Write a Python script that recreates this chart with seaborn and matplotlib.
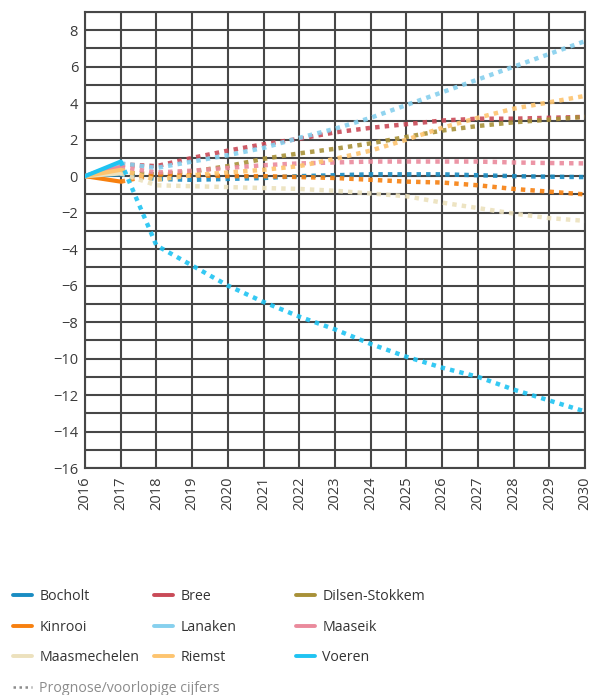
import pandas as pd
import matplotlib.pyplot as plt
import seaborn as sns
from matplotlib.lines import Line2D
from matplotlib.ticker import MultipleLocator

# Bevolkingsevolutie t.o.v. 2016 (%), 2016-2017 waargenomen, daarna prognose
years = list(range(2016, 2031))

bocholt = [0, 0.1, -0.15, -0.2, -0.15, -0.1, 0.0, 0.05, 0.1, 0.1, 0.1, 0.05, 0.0, -0.03, -0.05]
bree = [0, 0.65, 0.55, 1.0, 1.4, 1.75, 2.05, 2.4, 2.65, 2.85, 3.05, 3.15, 3.15, 3.2, 3.25]
dilsen = [0, 0.2, 0.1, 0.25, 0.55, 0.95, 1.25, 1.5, 1.8, 2.15, 2.5, 2.75, 2.95, 3.1, 3.25]
kinrooi = [0, -0.3, 0.1, 0.05, 0.0, 0.0, -0.05, -0.1, -0.2, -0.3, -0.35, -0.5, -0.7, -0.85, -1.0]
lanaken = [0, 0.7, 0.45, 0.8, 1.15, 1.55, 2.1, 2.6, 3.2, 3.9, 4.6, 5.3, 6.0, 6.7, 7.4]
maaseik = [0, 0.5, 0.2, 0.3, 0.45, 0.6, 0.7, 0.75, 0.8, 0.8, 0.8, 0.8, 0.75, 0.72, 0.7]
maasmechelen = [0, 0.15, -0.5, -0.55, -0.6, -0.65, -0.7, -0.8, -0.95, -1.1, -1.45, -1.75, -2.05, -2.3, -2.45]
riemst = [0, 0.35, -0.2, 0.05, 0.2, 0.35, 0.55, 0.95, 1.4, 2.0, 2.65, 3.2, 3.7, 4.05, 4.4]
voeren = [0, 0.8, -3.8, -4.9, -6.0, -6.9, -7.7, -8.4, -9.2, -9.9, -10.5, -11.0, -11.7, -12.3, -12.9]

names = ['Bocholt', 'Bree', 'Dilsen-Stokkem', 'Kinrooi', 'Lanaken', 'Maaseik',
         'Maasmechelen', 'Riemst', 'Voeren']
series = [bocholt, bree, dilsen, kinrooi, lanaken, maaseik, maasmechelen, riemst, voeren]
colors = ['#1a8cc2', '#c94a57', '#a89138', '#f7800f', '#86d0ee', '#ea8a9c',
          '#ece1bd', '#fdc46f', '#1fc3f2']
last_actual = 2017

sns.set_style('white')
plt.rcParams['font.family'] = ['Open Sans', 'DejaVu Sans']

fig = plt.figure(figsize=(5.91, 6.95), dpi=100)
ax = fig.add_axes([85 / 591, 1 - 468 / 695, 500 / 591, 456 / 695])

for name, vals, col in zip(names, series, colors):
    df = pd.DataFrame({'jaar': years, 'waarde': vals})
    actual = df[df['jaar'] <= last_actual]
    prog = df[df['jaar'] >= last_actual]
    sns.lineplot(data=actual, x='jaar', y='waarde', ax=ax, color=col, lw=3,
                 solid_capstyle='round', zorder=3)
    sns.lineplot(data=prog, x='jaar', y='waarde', ax=ax, color=col, lw=3.2,
                 linestyle=(0, (1, 1.15)), dash_capstyle='butt', alpha=0.9, zorder=3)

ax.set_xlim(2016, 2030)
ax.set_ylim(-16, 9)
ax.xaxis.set_major_locator(MultipleLocator(1))
ax.yaxis.set_major_locator(MultipleLocator(2))
ax.yaxis.set_minor_locator(MultipleLocator(1))
ax.grid(True, which='both', color='#474747', lw=1.5, zorder=1)
ax.set_axisbelow(True)
for s in ax.spines.values():
    s.set_color('#474747')
    s.set_linewidth(1.5)
ax.set_xlabel('')
ax.set_ylabel('')
ax.tick_params(axis='x', rotation=90, labelsize=10.5, colors='#3a3a3a', length=0, pad=6)
ax.tick_params(axis='y', labelsize=10.5, colors='#3a3a3a', length=3, pad=2)
ax.tick_params(axis='y', which='minor', length=0)

# legende in drie kolommen
handles = [Line2D([0], [0], color=c, lw=2.8) for c in colors]
col_x = [13 / 591, 154 / 591, 296 / 591]
for i in range(3):
    idx = [i, i + 3, i + 6]
    leg = fig.legend([handles[j] for j in idx], [names[j] for j in idx],
                     loc='upper left', bbox_to_anchor=(col_x[i], 1 - 589 / 695),
                     frameon=False, fontsize=10.2, handlelength=1.37, handletextpad=0.5,
                     labelspacing=1.1, borderpad=0, borderaxespad=0)
    for t in leg.get_texts():
        t.set_color('#333333')

prog_handle = Line2D([0], [0], color='#8c8c8c', lw=1.8, linestyle=(0, (1, 1.4)))
leg2 = fig.legend([prog_handle], ['Prognose/voorlopige cijfers'], loc='upper left',
                  bbox_to_anchor=(col_x[0], 1 - 681 / 695), frameon=False, fontsize=10.2,
                  handlelength=1.37, handletextpad=0.5, borderpad=0, borderaxespad=0)
for t in leg2.get_texts():
    t.set_color('#8c8c8c')

fig.savefig('out.png', dpi=100)
